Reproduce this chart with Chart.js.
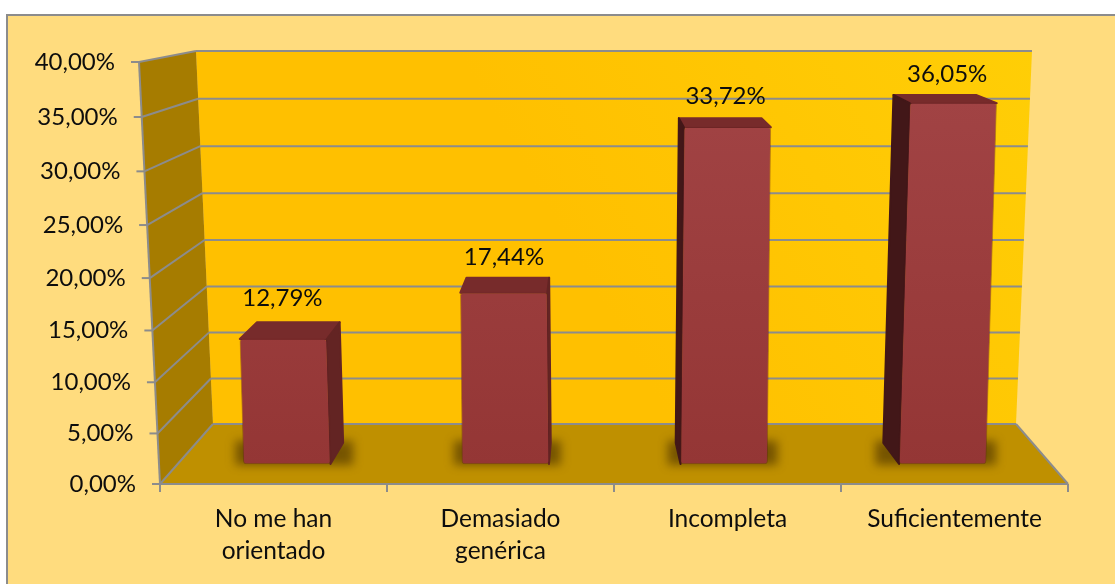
<!DOCTYPE html>
<html>
<head>
<meta charset="utf-8">
<style>
  body { margin: 0; background: #ffffff; }
  canvas { display: block; }
</style>
<script src="https://cdn.jsdelivr.net/npm/chart.js@4/dist/chart.umd.js"></script>
</head>
<body>
<canvas id="chart_orientacion" width="1115" height="584"></canvas>
<script>
const categories = [["No me han", "orientado"], ["Demasiado", "genérica"], "Incompleta", "Suficientemente"];
const shares = [12.79, 17.44, 33.72, 36.05];
const axisMax = 40;
const axisStep = 5;

// label height above the bar, the original places them by hand
const labelGaps = [41, 35, 31, 29];

const gridColor = "#8c8c8c";
const textColor = "#0d0d0d";
const chartFont = "Lato";

// the 3d box: front edge of the floor and the back wall
const front = { left: 160, right: 1068, slant: 21 / 422 };
const back = { left: 213, right: 1016, bottom: 424, top: 51, slantLeft: 17 / 373, slantRight: 16 / 373 };
const vanishX = 614;

class PerspectiveScale extends Chart.LinearScale {
  getPixelForValue(value) {
    let o = this.options;
    let t = value / this.max;
    return o.zeroY - (o.zeroY - o.topY) * t * (1 + o.bend) / (1 + o.bend * t);
  }

  // labels follow the slanted axis
  _computeLabelItems(chartArea) {
    let items = super._computeLabelItems(chartArea);
    if (this.options.display) {
      items.forEach((item) => {
        let y = item.options.translation[1];
        item.options.translation[0] -= (this.bottom - y) * front.slant;
      });
    }
    return items;
  }
}
PerspectiveScale.id = "perspective";
PerspectiveScale.defaults = Chart.LinearScale.defaults;
Chart.register(PerspectiveScale);

const drawBar = Chart.BarElement.prototype.draw;
Chart.BarElement.prototype.draw = function (ctx) {
  let k = (this.x - vanishX) * 9e-5;
  ctx.save();
  ctx.transform(1, 0, -k, 1, k * this.base, 0);
  drawBar.call(this, ctx);
  ctx.restore();
};

function rear(p) {
  return [p[0] + (vanishX - 30 - p[0]) * 0.05, p[1] - (4.5 + 0.036 * p[1])];
}

function polygon(ctx, points, fill, rounded) {
  ctx.beginPath();
  points.forEach((p, i) => (i ? ctx.lineTo(p[0], p[1]) : ctx.moveTo(p[0], p[1])));
  ctx.closePath();
  ctx.fillStyle = fill;
  ctx.fill();
  if (rounded) {
    ctx.strokeStyle = fill;
    ctx.lineWidth = 2;
    ctx.lineJoin = "round";
    ctx.stroke();
  }
}

function line(ctx, x1, y1, x2, y2) {
  ctx.beginPath();
  ctx.moveTo(x1, y1);
  ctx.lineTo(x2, y2);
  ctx.stroke();
}

function drawBox(chart) {
  let ctx = chart.ctx;
  let y = chart.scales.y;
  let yBack = chart.scales.yBack;
  let y0 = y.getPixelForValue(0);
  let yTop = y.getPixelForValue(axisMax);
  let frontX = (py) => front.left - (y0 - py) * front.slant;
  let backLeft = (py) => back.left - (back.bottom - py) * back.slantLeft;
  let backRight = (py) => back.right + (back.bottom - py) * back.slantRight;

  let wall = ctx.createLinearGradient(600, 300, back.right + 16, back.top);
  wall.addColorStop(0, "#ffc000");
  wall.addColorStop(1, "#ffce06");
  polygon(ctx, [[backLeft(back.top), back.top], [backRight(back.top), back.top], [back.right, back.bottom], [back.left, back.bottom]], wall);
  polygon(ctx, [[frontX(yTop), yTop], [backLeft(back.top), back.top], [back.left, back.bottom], [front.left, y0]], "#a67c00");
  polygon(ctx, [[front.left, y0], [back.left, back.bottom], [back.right, back.bottom], [front.right, y0]], "#bf9000");

  ctx.strokeStyle = gridColor;
  ctx.lineWidth = 2;
  y.ticks.forEach((tick) => {
    let py = y.getPixelForValue(tick.value);
    let by = yBack.getPixelForValue(tick.value);
    line(ctx, frontX(py), py, backLeft(by), by);
    line(ctx, backLeft(by), by, backRight(by), by);
    line(ctx, frontX(py) - 8, py, frontX(py), py);
  });
  line(ctx, frontX(yTop), yTop, front.left, y0);
  line(ctx, front.left, y0, front.right, y0);
  line(ctx, front.right, y0, back.right, back.bottom);
}

function drawBarSides(chart) {
  let ctx = chart.ctx;
  let bars = chart.getDatasetMeta(0).data;

  bars.forEach((bar) => {
    let half = bar.width / 2;
    let bl = [bar.x - half, bar.base];
    let br = [bar.x + half, bar.base];
    let rl = rear(bl);
    let rr = rear(br);
    ctx.save();
    ctx.filter = "blur(5px)";
    polygon(ctx, [
      [Math.min(bl[0], rl[0]) - 8, rl[1] - 2],
      [Math.max(br[0], rr[0]) + 10, rl[1] - 2],
      [Math.max(br[0], rr[0]) + 10, bar.base + 1],
      [Math.min(bl[0], rl[0]) - 8, bar.base + 1],
    ], "rgba(70, 45, 0, 0.6)");
    ctx.restore();
  });

  bars.forEach((bar) => {
    let half = bar.width / 2;
    let lean = (bar.x - vanishX) * 9e-5 * (bar.base - bar.y);
    let fl = [bar.x - half + lean, bar.y];
    let fr = [bar.x + half + lean, bar.y];
    let bl = [bar.x - half, bar.base];
    let br = [bar.x + half, bar.base];
    polygon(ctx, [fl, rear(fl), rear(fr), fr], "#772b2b", true);
    if (rear(fr)[0] > fr[0]) polygon(ctx, [fr, rear(fr), rear(br), br], "#632423", true);
    if (rear(fl)[0] < fl[0]) polygon(ctx, [fl, rear(fl), rear(bl), bl], "#421718", true);
  });
}

const boxPlugin = {
  id: "box",
  beforeDraw(chart) {
    let ctx = chart.ctx;
    ctx.fillStyle = "#ffffff";
    ctx.fillRect(0, 0, chart.width, chart.height);
    ctx.fillStyle = "#ffdc7e";
    ctx.strokeStyle = gridColor;
    ctx.lineWidth = 2;
    ctx.fillRect(7, 15, chart.width, chart.height);
    ctx.strokeRect(7, 15, chart.width, chart.height);
  },
  beforeDatasetsDraw(chart) {
    drawBox(chart);
    drawBarSides(chart);
  },
  afterDatasetsDraw(chart) {
    let ctx = chart.ctx;
    ctx.font = "24px " + chartFont;
    ctx.fillStyle = textColor;
    ctx.textAlign = "center";
    ctx.textBaseline = "middle";
    chart.getDatasetMeta(0).data.forEach((bar, i) => {
      let text = shares[i].toFixed(2).replace(".", ",") + "%";
      ctx.fillText(text, bar.x + (bar.x - vanishX) * 0.014, bar.y - labelGaps[i]);
    });
  },
};

function barFill(context) {
  let ctx = context.chart.ctx;
  let fill = ctx.createLinearGradient(0, 465, 0, 100);
  fill.addColorStop(0, "#943635");
  fill.addColorStop(1, "#a14344");
  return fill;
}

function init() {
  let ctx = document.getElementById("chart_orientacion");
  new Chart(ctx, {
    type: "bar",
    plugins: [boxPlugin],
    data: {
      labels: categories,
      datasets: [
        {
          data: shares.map((v, i) => ({ x: i, y: v })),
          xAxisID: "xBar",
          yAxisID: "yBar",
          backgroundColor: barFill,
          borderColor: "rgba(95, 30, 30, 0.4)",
          borderWidth: 1,
          barThickness: 87,
          borderRadius: 3,
          borderSkipped: false,
        },
      ],
    },
    options: {
      responsive: false,
      animation: false,
      devicePixelRatio: 1,
      layout: { padding: { top: 62, right: 47 } },
      plugins: { legend: { display: false }, tooltip: { enabled: false } },
      scales: {
        x: {
          type: "category",
          offset: true,
          afterFit(scale) {
            scale.height = 100;
          },
          border: { display: false },
          grid: { offset: true, drawOnChartArea: false, color: gridColor, lineWidth: 2, tickLength: 8 },
          ticks: {
            color: textColor,
            font: { family: chartFont, size: 24.5, lineHeight: 1.27 },
            padding: 12,
            maxRotation: 0,
            autoSkip: false,
          },
        },
        xBar: { type: "linear", axis: "x", display: false, offset: false, min: -0.581, max: 3.574 },
        y: {
          type: "perspective",
          position: "left",
          min: 0,
          max: axisMax,
          zeroY: 484,
          topY: 62,
          bend: -0.047,
          afterFit(scale) {
            scale.width = 160;
          },
          border: { display: false },
          grid: { display: false },
          ticks: {
            stepSize: axisStep,
            color: textColor,
            font: { family: chartFont, size: 24 },
            padding: 16,
            callback: (v) => v.toFixed(2).replace(".", ",") + "%",
          },
        },
        yBar: { type: "perspective", axis: "y", display: false, min: 0, max: axisMax, zeroY: 464, topY: 62, bend: -0.04 },
        yBack: { type: "perspective", axis: "y", display: false, min: 0, max: axisMax, zeroY: 424, topY: 51, bend: -0.0265 },
      },
    },
  });
}

window.onload = init;
</script>
</body>
</html>
